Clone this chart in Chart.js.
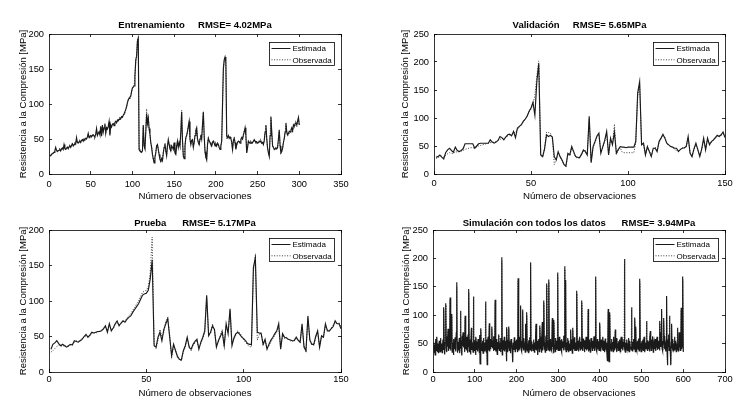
<!DOCTYPE html>
<html><head><meta charset="utf-8">
<script src="https://cdn.jsdelivr.net/npm/chart.js@4/dist/chart.umd.min.js"></script>
<style>
html,body{margin:0;padding:0;background:#fff;}
#wrap{position:relative;width:750px;height:420px;background:#fff;overflow:hidden;}
canvas{position:absolute;}
</style></head><body>
<div id="wrap">
<canvas id="c1" width="375" height="210" style="left:0px;top:0px"></canvas>
<canvas id="c2" width="375" height="210" style="left:375px;top:0px"></canvas>
<canvas id="c3" width="375" height="210" style="left:0px;top:210px"></canvas>
<canvas id="c4" width="375" height="210" style="left:375px;top:210px"></canvas>
</div>
<script>
// ---------- DATA ----------
const seriesLabels = ['Estimada', 'Observada'];
const titles = [
  'Entrenamiento     RMSE= 4.02MPa',
  'Validación     RMSE= 5.65MPa',
  'Prueba      RMSE= 5.17MPa',
  'Simulación con todos los datos      RMSE= 3.94MPa'
];
const xLabel = 'Número de observaciones';
const yLabel = 'Resistencia a la Compresión [MPa]';

const trainXTicks = [0,50,100,150,200,250,300,350];
const trainYTicks = [0,50,100,150,200];
const valXTicks = [0,50,100,150];
const valYTicks = [0,50,100,150,200,250];
const testXTicks = [0,50,100,150];
const testYTicks = [0,50,100,150,200];
const allXTicks = [0,100,200,300,400,500,600,700];
const allYTicks = [0,50,100,150,200,250];

const trainEst = [
27,26,28,29,30,31,33,38,34,32, 33,34,35,33,36,37,35,42,36,35,
37,38,36,39,40,38,41,43,40,42, 44,43,52,45,44,46,47,45,48,49,
47,50,49,51,50,53,58,52,54,55, 53,55,56,54,53,57,65,55,58,60,
56,68,54,70,60,66,72,58,66,64, 68,75,55,70,67,71,72,69,74,75,
73,77,76,78,80,79,82,81,84,86, 86,92,96,102,106,108,110,111,118,123,
124,126,140,163,168,190,194,35,33,32, 31,33,70,40,36,60,86,72,80,65,
57,45,38,28,22,16,24,30,40,42, 35,28,21,18,22,19,30,38,43,33,
26,40,49,42,36,33,40,38,35,45, 30,28,40,47,38,45,40,60,89,48,
26,22,40,52,55,61,68,75,50,42, 48,49,38,45,55,62,66,50,45,42,
50,56,50,70,89,55,32,24,20,42, 51,47,45,42,40,45,47,44,40,43,
40,44,42,38,35,40,47,100,151,163, 167,160,54,52,55,51,53,51,45,35,
48,51,45,35,42,45,47,46,44,49, 52,50,56,60,66,55,30,38,47,45,
44,46,44,45,47,49,47,45,46,44, 45,47,46,47,44,45,42,48,60,70,
50,37,30,25,55,82,60,40,38,35, 36,37,36,38,50,63,40,30,32,37,
45,51,60,73,60,56,58,61,60,63, 66,62,70,68,72,73,70,76,81,70
];
const trainObs = [
26,27,27,30,29,32,32,36,35,33, 34,33,36,34,35,38,36,40,37,36,
36,39,37,38,41,39,40,44,41,41, 43,44,50,46,45,45,48,46,47,50,
48,49,50,50,51,52,56,53,53,56, 54,54,57,55,54,56,63,56,57,61,
57,66,55,68,61,65,70,59,65,65, 67,73,57,69,68,70,73,70,73,76,
74,76,77,79,79,80,81,82,83,85, 85,93,97,101,105,109,111,112,117,122,
125,127,138,160,170,192,196,37,34,31, 32,34,68,42,35,62,93,70,82,63,
58,44,40,29,20,17,25,31,41,43, 36,27,22,17,23,20,31,37,44,34,
27,41,48,43,37,32,41,37,36,44, 31,29,41,46,39,44,41,58,91,46,
25,23,41,51,56,60,69,76,48,43, 47,50,39,44,56,63,67,49,46,41,
51,55,51,72,88,54,33,23,21,41, 52,46,46,43,41,44,48,45,41,42,
41,43,43,37,36,41,46,98,148,160, 165,158,50,53,54,52,52,50,46,33,
47,52,44,36,41,46,46,47,45,48, 53,49,55,61,64,56,31,37,48,44,
45,45,45,44,46,48,46,46,45,45, 44,46,47,46,45,44,43,47,58,68,
52,36,31,26,53,80,58,41,37,36, 35,38,37,37,48,61,42,29,33,36,
46,50,58,70,58,54,56,58,58,60, 63,60,67,66,69,70,68,74,79,69
];

const valEst = [
30,31,34,30,27,38,43,46,42,39, 48,42,40,42,45,54,54,54,54,54,
46,50,54,55,55,55,55,55,61,57, 55,57,60,67,65,61,66,70,71,68,
76,65,82,85,88,94,98,103,112,118, 128,105,165,197,34,31,45,70,67,69,
66,31,25,40,31,25,17,14,37,34, 49,40,31,30,29,35,43,40,34,103,
20,49,58,68,73,37,49,60,76,34, 64,52,75,37,44,49,48,48,47,48,
48,48,48,58,145,165,52,55,34,49, 40,31,46,46,40,58,64,71,64,55,
52,49,48,46,46,40,44,46,47,49, 67,37,31,45,55,43,31,45,64,43,
64,52,58,61,65,69,67,70,75,65
];
const valObs = [
28,29,31,32,30,33,36,38,37,36, 40,39,40,41,42,44,45,46,47,47,
46,48,50,51,52,53,54,55,56,56, 57,58,60,62,63,64,66,68,70,71,
73,75,79,84,87,93,98,104,110,116, 124,140,175,202,35,30,47,75,74,73,
64,17,24,38,30,24,16,13,35,33, 47,38,30,28,30,34,41,42,35,98,
22,47,56,66,70,39,47,58,72,36, 62,54,89,35,42,47,39,38,38,38,
38,38,38,55,140,160,55,53,36,47, 42,33,44,48,42,56,62,70,66,54,
51,50,47,44,42,41,43,47,46,48, 64,38,33,43,52,45,33,43,60,45,
61,55,56,60,63,67,68,69,72,66
];

const testEst = [
32,39,41,44,40,37,39,37,35,37, 39,38,44,43,42,44,46,50,53,49,
52,56,55,56,57,57,58,61,65,56, 68,58,62,68,72,65,69,72,70,74,
77,79,84,88,92,96,102,108,110,111, 115,131,158,37,35,49,56,44,60,68,
75,49,23,39,30,22,18,17,30,37, 49,35,32,39,43,46,32,42,49,58,
108,51,56,65,60,35,44,50,56,37, 68,54,89,37,48,54,56,53,49,47,
44,40,39,39,147,161,56,55,54,39, 46,32,39,45,49,54,58,68,32,54,
49,48,46,45,44,44,49,45,42,68, 35,30,79,45,39,39,50,58,35,51,
49,68,58,58,61,64,72,68,68,61
];
const testObs = [
28,30,33,36,38,37,36,38,36,36, 38,39,42,44,43,45,47,49,51,50,
51,54,55,55,56,58,59,60,63,58, 66,60,61,67,70,66,68,71,72,76,
79,82,87,91,96,100,106,112,114,115, 120,140,190,40,33,45,60,50,56,72,
77,52,20,37,32,20,17,16,28,35, 47,37,30,37,41,44,34,40,47,55,
104,53,54,68,58,37,42,52,60,36, 65,56,86,40,46,52,58,55,51,45,
42,38,36,35,140,165,45,52,56,38, 44,34,37,42,47,52,56,64,34,52,
47,49,45,44,43,46,47,44,41,64, 37,28,75,44,40,37,48,56,36,49,
50,65,60,57,62,66,70,67,70,63
];

const allEst = [
40,52,35,48,30,58,45,38,62,42,35,50,44,33,55,47,36,60,41,38,
50,34,46,57,39,114,44,31,52,68,121,40,35,63,45,76,37,72,42,55,
131,38,48,66,102,35,52,44,30,58,47,40,61,36,49,70,158,42,34,53,
45,38,60,33,50,108,41,55,29,64,46,70,52,43,58,35,99,47,40,62,
38,51,34,66,44,146,36,49,57,31,45,78,39,52,42,35,133,48,38,56,
44,30,62,47,39,53,36,58,42,49,34,65,14,45,77,38,50,41,55,33,
60,43,37,52,46,124,40,35,57,13,48,62,38,44,86,36,51,40,58,45,
80,55,42,48,37,63,50,39,127,45,36,58,42,31,53,47,40,66,38,52,
44,35,60,41,202,30,49,56,38,45,62,36,47,40,55,19,79,42,35,51,
46,80,38,54,41,33,58,44,50,37,17,52,45,39,61,43,36,55,48,40,
57,42,35,165,50,38,62,44,47,117,40,55,36,49,110,45,38,60,42,52,
35,85,44,40,105,37,50,43,56,33,48,61,39,193,45,36,54,42,49,38,
57,44,35,52,40,63,85,38,47,55,30,49,42,58,36,82,62,40,50,34,
56,88,38,60,45,126,40,52,35,48,64,37,156,44,55,39,47,163,42,36,
58,45,40,53,37,95,44,50,33,92,42,48,36,60,45,39,55,41,175,38,
50,44,62,37,48,56,40,35,58,46,42,53,38,64,45,186,40,162,36,52,
47,39,60,43,55,35,50,44,38,75,46,41,57,33,78,54,40,45,61,37,
52,44,38,58,143,40,48,55,36,50,43,62,39,46,53,40,126,45,37,59,
44,50,35,56,41,48,62,38,45,53,40,111,36,49,57,42,47,34,60,45,
51,38,55,42,46,63,37,50,44,168,40,53,36,58,45,41,54,38,47,87,
42,36,57,45,50,40,62,38,48,55,43,35,59,46,40,52,38,20,47,111,
44,18,56,105,40,50,37,58,45,41,53,36,62,44,49,38,75,42,47,35,
60,43,50,38,54,45,40,57,36,48,62,41,46,53,38,50,44,58,199,40,
35,52,46,41,57,38,50,44,60,36,48,55,42,45,39,114,47,37,53,44,
58,40,46,96,36,80,43,49,38,55,45,40,59,37,48,164,42,50,36,54,
45,40,57,38,49,62,43,35,52,46,41,90,44,38,56,47,40,53,36,60,
72,50,38,57,42,46,63,35,49,54,40,45,58,37,50,43,62,39,47,55,
41,52,38,90,45,70,48,111,42,55,37,50,95,63,40,58,44,36,53,134,
40,12,57,45,66,38,99,48,35,12,52,85,44,40,58,37,50,45,62,38,
47,55,36,50,43,78,40,48,36,70,44,52,38,46,113,40,45,58,168,35
];
const allObs = [
42,50,37,46,32,55,47,36,60,44,37,48,46,35,53,49,34,58,43,40,
48,36,44,55,41,110,46,33,50,66,118,42,37,60,47,72,39,70,44,53,
128,40,46,64,98,37,50,46,32,56,49,42,59,38,47,68,150,44,36,51,
47,40,58,35,48,104,43,53,31,62,48,67,50,45,56,37,95,49,42,60,
40,49,36,63,46,140,38,47,55,33,47,74,41,50,44,37,128,50,40,54,
46,32,60,49,41,51,38,56,44,47,36,62,16,47,74,40,48,43,53,35,
58,45,39,50,48,120,42,37,55,15,50,60,40,46,82,38,49,42,56,47,
76,53,44,46,39,61,52,41,122,47,38,56,44,33,51,49,42,63,40,50,
46,37,58,43,195,32,47,54,40,47,60,38,45,42,53,21,76,44,37,49,
48,77,40,52,43,35,56,46,48,39,19,50,47,41,59,45,38,53,50,42,
55,44,37,160,52,40,60,46,45,113,42,53,38,47,106,47,40,58,44,50,
37,82,46,42,100,39,48,45,54,35,50,59,41,188,47,38,52,44,47,40,
55,46,37,50,42,61,82,40,45,53,32,47,44,56,38,79,60,42,48,36,
54,84,40,58,47,121,42,50,37,46,62,39,151,46,53,41,45,158,44,38,
56,47,42,51,39,91,46,48,35,88,44,46,38,58,47,41,53,43,170,40,
48,46,60,39,46,54,42,37,56,48,44,51,40,62,47,181,42,157,38,50,
49,41,58,45,53,37,48,46,40,72,48,43,55,35,74,52,42,47,59,39,
50,46,40,56,138,42,46,53,38,48,45,60,41,44,51,42,121,47,39,57,
46,48,37,54,43,46,60,40,47,51,42,107,38,47,55,44,45,36,58,47,
49,40,53,44,48,61,39,48,46,163,42,51,38,56,47,43,52,40,45,84,
44,38,55,47,48,42,60,40,46,53,45,37,57,48,42,50,40,22,45,107,
46,20,54,101,42,48,39,56,47,43,51,38,60,46,47,40,72,44,45,37,
58,45,48,40,52,47,42,55,38,46,60,43,44,51,40,48,46,56,193,42,
37,50,48,43,55,40,48,46,58,38,46,53,44,43,41,110,45,39,51,46,
56,42,44,92,38,77,45,47,40,53,47,42,57,39,46,159,44,48,38,52,
47,42,55,40,47,60,45,37,50,48,43,86,46,40,54,45,42,51,38,58,
69,48,40,55,44,44,61,37,47,52,42,43,56,39,48,45,60,41,45,53,
43,50,40,86,47,67,46,107,44,53,39,48,90,61,42,56,46,38,51,129,
42,14,55,47,63,40,95,46,37,14,50,82,46,42,56,39,48,47,60,40,
45,53,38,48,45,74,42,46,38,67,46,50,40,44,109,42,43,56,163,37
];

// ---------- RENDER ----------
const FONT = "'Liberation Sans', Arial, Helvetica, sans-serif";
Chart.defaults.font.family = FONT;
Chart.defaults.color = '#000';

const boxLegend = {
  id: 'boxLegend',
  afterDraw(chart) {
    const {ctx, chartArea: a} = chart;
    const ds = chart.data.datasets;
    ctx.save();
    ctx.font = '8px ' + FONT;
    const tw = Math.max(...ds.map(d => ctx.measureText(d.label).width));
    const w = Math.round(2 + 19 + 2 + tw + 3), h = 23;
    const x = Math.round(a.right - 7 - w) + 0.5, y = Math.round(a.top + 8) + 0.5;
    ctx.fillStyle = '#fff'; ctx.fillRect(x, y, w, h);
    ctx.strokeStyle = '#000'; ctx.lineWidth = 0.8; ctx.setLineDash([]); ctx.strokeRect(x, y, w, h);
    ds.forEach((d, i) => {
      const cy = y + 6 + i * 11.3;
      ctx.beginPath();
      ctx.setLineDash(d.borderDash || []);
      ctx.strokeStyle = d.borderColor; ctx.lineWidth = 1;
      ctx.moveTo(x + 2, cy); ctx.lineTo(x + 21, cy); ctx.stroke();
      ctx.setLineDash([]);
      ctx.fillStyle = '#000'; ctx.textBaseline = 'middle'; ctx.textAlign = 'left';
      ctx.fillText(d.label, x + 23, cy + 0.5);
    });
    ctx.restore();
  }
};

function axisBase(ticksArr, min, max) {
  return {
    type: 'linear', min: min, max: max,
    afterBuildTicks: s => { s.ticks = ticksArr.map(v => ({value: v})); },
    grid: {display: true, drawOnChartArea: false, drawTicks: true, tickLength: -3, color: '#000', lineWidth: 0.8},
    border: {display: true, color: '#000', width: 0.8}
  };
}

function panel(id, p) {
  const pts = a => a.map((v, i) => ({x: i + 1, y: v}));
  const xMax = p.xt[p.xt.length - 1], yMax = p.yt[p.yt.length - 1];
  const tickFont = {family: FONT, size: 9.3};
  const x = Object.assign(axisBase(p.xt, 0, xMax), {
    position: 'bottom',
    ticks: {font: tickFont, color: '#000', padding: p.xtPad, maxRotation: 0, autoSkip: false},
    title: {display: true, text: xLabel, color: '#000', font: {family: FONT, size: 9.7}, padding: {top: 0, bottom: p.xTitlePad}},
    afterFit: s => { s.height = p.xH; }
  });
  const x2 = Object.assign(axisBase(p.xt, 0, xMax), {
    position: 'top', ticks: {display: false}, afterFit: s => { s.height = 0; }
  });
  const y = Object.assign(axisBase(p.yt, 0, yMax), {
    position: 'left',
    ticks: {font: tickFont, color: '#000', padding: 8},
    title: {display: true, text: yLabel, color: '#000', font: {family: FONT, size: 9.5}, padding: {top: p.yTitlePad, bottom: 0}},
    afterFit: s => { s.width = p.yW; }
  });
  const y2 = Object.assign(axisBase(p.yt, 0, yMax), {
    position: 'right', ticks: {display: false}, afterFit: s => { s.width = 0; }
  });
  new Chart(document.getElementById(id), {
    type: 'line',
    data: {datasets: [
      {label: seriesLabels[0], data: pts(p.est), borderColor: '#1a1a1a', borderWidth: 1.15, pointRadius: 0, tension: 0, fill: false},
      {label: seriesLabels[1], data: pts(p.obs), borderColor: '#3c3c3c', borderWidth: 1, borderDash: [1, 1.6], pointRadius: 0, tension: 0, fill: false}
    ]},
    options: {
      responsive: false, animation: false, devicePixelRatio: 1,
      layout: {padding: {left: 0, right: p.padR, top: 0, bottom: 0}},
      plugins: {
        legend: {display: false}, tooltip: {enabled: false},
        title: {display: true, fullSize: false, text: p.title, color: '#000', font: {family: FONT, size: 9.5, weight: 'bold'},
                padding: {top: p.tTop, bottom: p.tBot}}
      },
      scales: {x: x, x2: x2, y: y, y2: y2}
    },
    plugins: [boxLegend]
  });
}

panel('c1', {est: trainEst, obs: trainObs, xt: trainXTicks, yt: trainYTicks, title: titles[0],
  padR: 34, yW: 49, xH: 36, tTop: 19.3, tBot: 3.3, xtPad: 7.6, xTitlePad: 7.6, yTitlePad: 17.8});
panel('c2', {est: valEst, obs: valObs, xt: valXTicks, yt: valYTicks, title: titles[1],
  padR: 25, yW: 59, xH: 36, tTop: 19.3, tBot: 3.3, xtPad: 7, xTitlePad: 7.6, yTitlePad: 25});
panel('c3', {est: testEst, obs: testObs, xt: testXTicks, yt: testYTicks, title: titles[2],
  padR: 34, yW: 49, xH: 48, tTop: 7.6, tBot: 1, xtPad: 5.3, xTitlePad: 21, yTitlePad: 17.6});
panel('c4', {est: allEst, obs: allObs, xt: allXTicks, yt: allYTicks, title: titles[3],
  padR: 25, yW: 58, xH: 48, tTop: 7.6, tBot: 1, xtPad: 5.3, xTitlePad: 21, yTitlePad: 26});
</script>
</body></html>
